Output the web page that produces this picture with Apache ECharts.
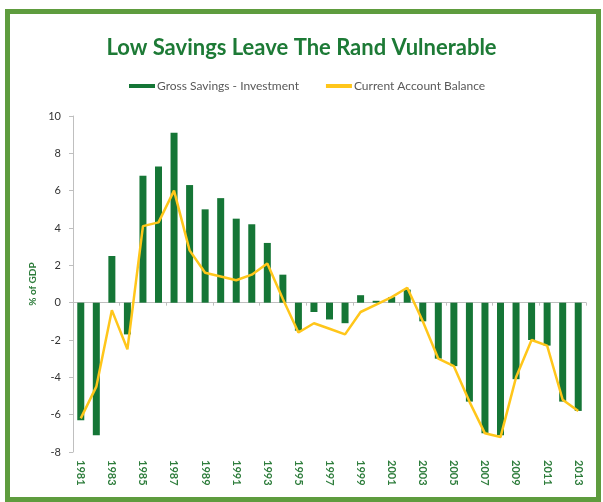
<!DOCTYPE html>
<html>
<head>
<meta charset="utf-8">
<script src="https://cdn.jsdelivr.net/npm/echarts@6/dist/echarts.min.js"></script>
<style>
  html, body { margin: 0; padding: 0; background: #fff; }
  #chart { width: 603px; height: 502px; }
</style>
</head>
<body>
<div id="chart"></div>
<script>
// years on the x axis
const years = [];
for (let y = 1981; y <= 2013; y++) years.push(String(y));

// gross savings minus investment, % of GDP (bars)
const savingsGap = [
  -6.3, -7.1, 2.5, -1.7, 6.8, 7.3, 9.1, 6.3, 5.0, 5.6,
  4.5, 4.2, 3.2, 1.5, -1.5, -0.5, -0.9, -1.1, 0.4, 0.1,
  0.3, 0.7, -1.0, -3.0, -3.4, -5.3, -7.0, -7.1, -4.1, -2.0,
  -2.3, -5.3, -5.8
];

// current account balance, % of GDP (line)
const currentAccount = [
  -6.2, -4.5, -0.4, -2.5, 4.1, 4.3, 6.0, 2.8, 1.6, 1.4,
  1.2, 1.5, 2.1, 0.2, -1.6, -1.1, -1.4, -1.7, -0.5, -0.1,
  0.3, 0.8, -1.0, -3.0, -3.4, -5.3, -7.0, -7.2, -4.0, -2.0,
  -2.3, -5.2, -5.8
];

const green = '#157636';
const yellow = '#ffc61a';

const chart = echarts.init(document.getElementById('chart'));

const option = {
  animation: false,
  backgroundColor: '#fff',
  graphic: [{
    type: 'rect',
    shape: { x: 7.5, y: 11.5, width: 591, height: 488 },
    style: { fill: 'none', stroke: '#5e9c3e', lineWidth: 5 },
    silent: true
  }],
  title: {
    text: 'Low Savings Leave The Rand Vulnerable',
    left: 'center',
    top: 32,
    textStyle: { fontFamily: 'Lato', fontWeight: 'bold', fontSize: 22, color: '#1d7a36' }
  },
  legend: {
    left: 124,
    top: 75,
    itemWidth: 26,
    itemHeight: 4,
    itemGap: 27,
    data: [
      { name: 'Gross Savings - Investment', icon: 'rect' },
      { name: 'Current Account Balance', icon: 'rect' }
    ],
    textStyle: { fontFamily: 'Lato', fontSize: 12, color: '#595959', padding: [0, 0, 0, -3] }
  },
  grid: { left: 73, right: 17, top: 116, bottom: 50 },
  xAxis: [
    {
      type: 'category',
      data: years,
      position: 'bottom',
      axisLine: { show: false, onZero: false },
      axisTick: { show: false },
      axisLabel: {
        interval: 1,
        rotate: -90,
        margin: 8,
        fontFamily: 'Lato',
        fontWeight: 'bold',
        fontSize: 11,
        color: '#2e7d3c'
      }
    },
    {
      type: 'category',
      data: years,
      position: 'top',
      axisLine: { show: true, onZero: true, lineStyle: { color: '#bfbfbf', width: 1 } },
      axisTick: { show: true, inside: true, length: 3, lineStyle: { color: '#bfbfbf' } },
      axisLabel: { show: false }
    }
  ],
  yAxis: {
    type: 'value',
    min: -8,
    max: 10,
    interval: 2,
    name: '% of GDP',
    nameLocation: 'middle',
    nameRotate: 90,
    nameGap: 35,
    nameTextStyle: { fontFamily: 'Lato', fontWeight: 'bold', fontSize: 10, color: '#2e7d3c' },
    axisLine: { show: true, lineStyle: { color: '#bfbfbf' } },
    axisTick: { show: true, length: 4, lineStyle: { color: '#bfbfbf' } },
    splitLine: { show: false },
    axisLabel: { fontFamily: 'Lato', fontSize: 11, color: '#333', margin: 12 }
  },
  series: [
    {
      name: 'Gross Savings - Investment',
      type: 'bar',
      xAxisIndex: 0,
      data: savingsGap,
      barWidth: 7,
      itemStyle: { color: green }
    },
    {
      name: 'Current Account Balance',
      type: 'line',
      xAxisIndex: 0,
      data: currentAccount,
      showSymbol: false,
      symbol: 'none',
      lineStyle: { color: yellow, width: 2.5 },
      itemStyle: { color: yellow },
      z: 3
    }
  ]
};

chart.setOption(option);
</script>
</body>
</html>
